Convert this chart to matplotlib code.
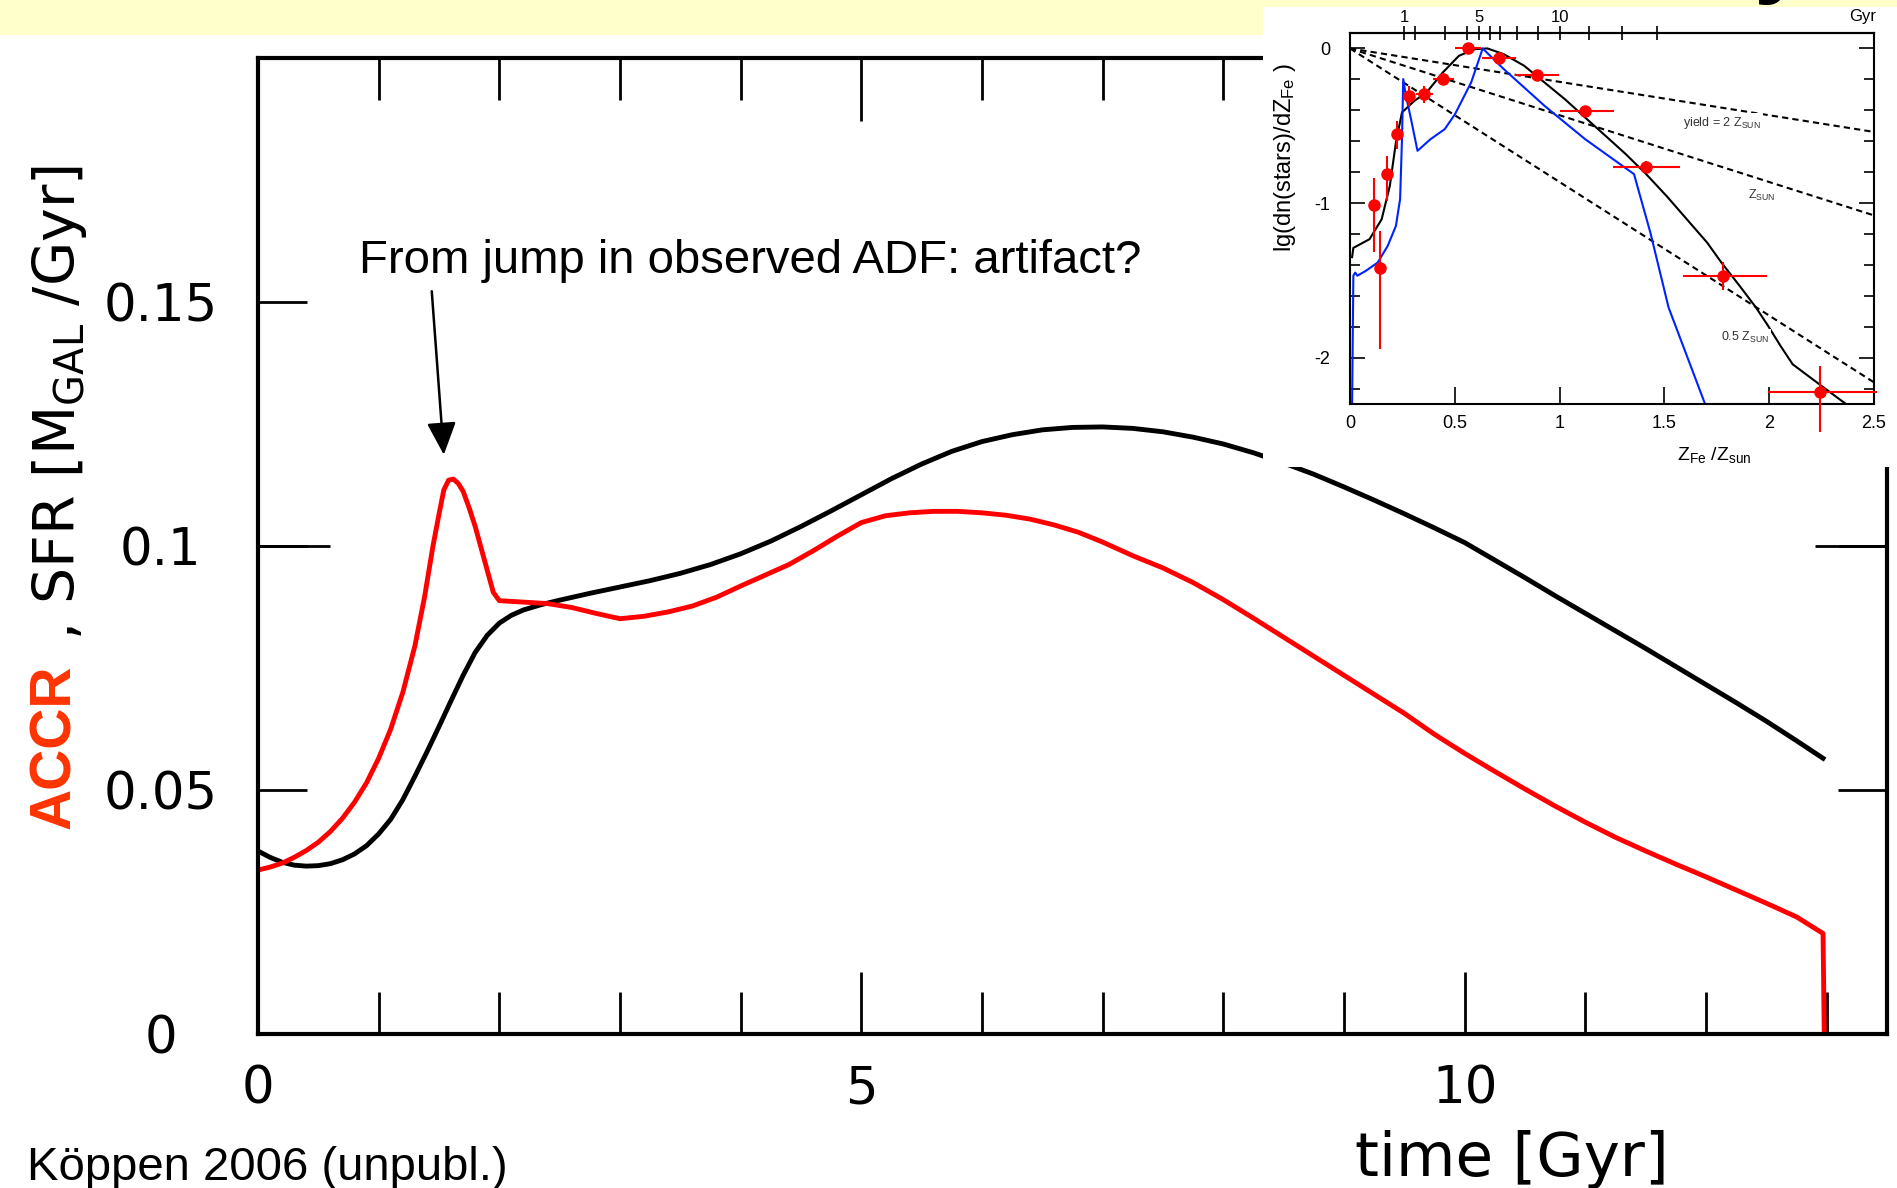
import numpy as np
import matplotlib.pyplot as plt
from matplotlib.patches import Rectangle
from matplotlib.ticker import FixedLocator, MultipleLocator

plt.rcParams['font.family'] = 'DejaVu Sans'
plt.rcParams['mathtext.default'] = 'regular'

W, H, DPI = 1897, 1188, 100

# main panel: star formation rate (black) and accretion rate (red)
t_sfr = [0.0, 0.1, 0.2, 0.3, 0.4, 0.5, 0.6, 0.7, 0.8, 0.9, 1.0, 1.1, 1.2, 1.3, 1.4,
         1.5, 1.6, 1.7, 1.8, 1.9, 2.0, 2.1, 2.2, 2.35, 2.5, 2.75, 3.0, 3.25, 3.5, 3.75,
         4.0, 4.25, 4.5, 4.75, 5.0, 5.25, 5.5, 5.75, 6.0, 6.25, 6.5, 6.75, 7.0, 7.25,
         7.5, 7.75, 8.0, 8.25, 8.5, 8.75, 9.0, 9.25, 9.5, 9.75, 10.0, 10.25, 10.5,
         10.75, 11.0, 11.25, 11.5, 11.75, 12.0, 12.25, 12.5, 12.75, 12.97]
sfr = [0.0375, 0.0362, 0.0352, 0.0346, 0.0344, 0.0345, 0.0349, 0.0357, 0.0369, 0.0386,
       0.041, 0.044, 0.048, 0.0528, 0.0578, 0.063, 0.0683, 0.0735, 0.0782, 0.0817,
       0.0842, 0.0858, 0.0869, 0.088, 0.0889, 0.0903, 0.0916, 0.0929, 0.0944, 0.0962,
       0.0984, 0.101, 0.104, 0.1072, 0.1105, 0.1138, 0.1168, 0.1194, 0.1214, 0.1228,
       0.1238, 0.1243, 0.1244, 0.1241, 0.1234, 0.1223, 0.1209, 0.1191, 0.117, 0.1147,
       0.1121, 0.1094, 0.1066, 0.1037, 0.1007, 0.0971, 0.0935, 0.0898, 0.0862, 0.0826,
       0.079, 0.0753, 0.0716, 0.0679, 0.0641, 0.0601, 0.0565]

t_accr = [0.0, 0.1, 0.2, 0.3, 0.4, 0.5, 0.6, 0.7, 0.8, 0.9, 1.0, 1.1, 1.2, 1.3, 1.38,
          1.45, 1.5, 1.54, 1.58, 1.62, 1.66, 1.7, 1.75, 1.8, 1.85, 1.9, 1.95, 2.0, 2.2,
          2.4, 2.6, 2.8, 3.0, 3.2, 3.4, 3.6, 3.8, 4.0, 4.2, 4.4, 4.6, 4.8, 5.0, 5.2,
          5.4, 5.6, 5.8, 6.0, 6.2, 6.4, 6.6, 6.8, 7.0, 7.25, 7.5, 7.75, 8.0, 8.25, 8.5,
          8.75, 9.0, 9.25, 9.5, 9.75, 10.0, 10.25, 10.5, 10.75, 11.0, 11.25, 11.5,
          11.75, 12.0, 12.25, 12.5, 12.75, 12.97, 12.98]
accr = [0.0336, 0.0342, 0.035, 0.0362, 0.0376, 0.0393, 0.0415, 0.0442, 0.0475, 0.0515,
        0.0565, 0.0625, 0.07, 0.0795, 0.0895, 0.1, 0.1065, 0.1115, 0.1135, 0.1137,
        0.1128, 0.1112, 0.1078, 0.104, 0.0995, 0.095, 0.0905, 0.0888, 0.0885, 0.0882,
        0.0874, 0.0862, 0.0851, 0.0856, 0.0865, 0.0877, 0.0895, 0.0918, 0.094, 0.0962,
        0.099, 0.102, 0.1048, 0.1062, 0.1068, 0.1071, 0.1071, 0.1068, 0.1063, 0.1055,
        0.1043, 0.1028, 0.1008, 0.098, 0.0955, 0.0925, 0.089, 0.0852, 0.0813, 0.0774,
        0.0735, 0.0696, 0.0657, 0.0614, 0.0575, 0.0538, 0.0502, 0.0467, 0.0434, 0.0403,
        0.0375, 0.0348, 0.0322, 0.0295, 0.0268, 0.024, 0.0206, 0.0]

x_ticks = [0, 5, 10]
y_ticks = [0, 0.05, 0.1, 0.15]
y_tick_labels = ['0', '0.05', '0.1', '0.15']

# inset: iron abundance distribution
z_model = [0.01, 0.016, 0.093, 0.151, 0.19, 0.219, 0.248, 0.307, 0.365, 0.443, 0.52,
           0.598, 0.656, 0.734, 0.831, 0.928, 1.025, 1.122, 1.219, 1.316, 1.413, 1.51,
           1.607, 1.704, 1.772, 1.859, 1.937, 1.995, 2.054, 2.112, 2.229, 2.364]
lg_model = [-1.35, -1.29, -1.234, -1.105, -0.889, -0.608, -0.414, -0.339, -0.285,
            -0.155, -0.047, -0.004, 0.0, -0.037, -0.112, -0.22, -0.328, -0.447, -0.565,
            -0.684, -0.813, -0.954, -1.105, -1.256, -1.385, -1.536, -1.676, -1.795,
            -1.924, -2.043, -2.162, -2.298]

z_blue = [0.01, 0.016, 0.025, 0.035, 0.074, 0.132, 0.18, 0.219, 0.239, 0.248, 0.254,
          0.264, 0.291, 0.322, 0.384, 0.452, 0.501, 0.578, 0.633, 0.734, 0.928, 1.122,
          1.355, 1.433, 1.52, 1.694, 2.36]
lg_blue = [-2.3, -1.47, -1.45, -1.47, -1.44, -1.385, -1.277, -1.148, -0.975, -0.587,
           -0.198, -0.285, -0.457, -0.662, -0.587, -0.522, -0.425, -0.22, 0.0, -0.134,
           -0.371, -0.587, -0.813, -1.191, -1.676, -2.3, -2.3]

z_simple = [0.0, 2.5]
lg_yield2 = [0.0, -0.54]
lg_yield1 = [0.0, -1.08]
lg_yield05 = [0.0, -2.16]

z_obs = [0.113, 0.142, 0.177, 0.225, 0.283, 0.355, 0.446, 0.563, 0.71, 0.893, 1.122,
         1.413, 1.778, 2.242]
lg_obs = [-1.014, -1.417, -0.813, -0.554, -0.306, -0.296, -0.198, 0.0, -0.06, -0.17,
          -0.403, -0.766, -1.471, -2.22]
z_err_lo = [0, 0, 0, 0, 0.025, 0.042, 0.05, 0.063, 0.08, 0.105, 0.122, 0.16, 0.19, 0.25]
z_err_hi = [0, 0, 0, 0, 0.025, 0.042, 0.05, 0.063, 0.08, 0.106, 0.136, 0.16, 0.21, 0.27]
lg_err_lo = [0.302, 0.529, 0.172, 0.097, 0.065, 0.056, 0.04, 0, 0, 0, 0, 0.04, 0.09, 0.26]
lg_err_hi = [0.173, 0.237, 0.119, 0.086, 0.065, 0.056, 0.04, 0, 0, 0, 0, 0.04, 0.09, 0.166]

# top axis of inset: Z reached after 1..13 Gyr
z_age = [0.258, 0.312, 0.452, 0.559, 0.617, 0.666, 0.718, 0.798, 0.895, 1.001, 1.141,
         1.296, 1.467]
age_labels = ['1', '', '', '', '5', '', '', '', '', '10', '', '', '']


def fx(px):
    return px / W


def fy(py):
    return 1 - py / H


fig = plt.figure(figsize=(W / DPI, H / DPI), dpi=DPI, facecolor='white')

# yellow title banner, mostly cut off
fig.add_artist(Rectangle((0, fy(35)), 1, 35 / H, transform=fig.transFigure,
                         facecolor='#FFFFCC', edgecolor='none', zorder=0.5))
fig.text(fx(1780), fy(5), 'y', fontsize=70, fontweight='bold', family='Liberation Sans',
         ha='center', va='bottom', zorder=0.6)

ax = fig.add_axes([fx(258), fy(1034), (1887 - 258) / W, (1034 - 58) / H])
ax.plot(t_sfr, sfr, color='black', lw=3.5)
ax.plot(t_accr, accr, color='#FF0000', lw=3.5)
ax.set_xlim(0, 13.5)
ax.set_ylim(0, 0.2)

for s in ax.spines.values():
    s.set_linewidth(3)
ax.xaxis.set_major_locator(FixedLocator(x_ticks))
ax.xaxis.set_minor_locator(MultipleLocator(1))
ax.set_yticks(y_ticks, labels=y_tick_labels)
ax.yaxis.set_minor_locator(FixedLocator([0.1]))
ax.yaxis.remove_overlapping_locs = False
ax.tick_params(which='both', direction='in', top=True, right=True, width=2)
ax.tick_params(axis='x', which='major', length=45, labelsize=37, pad=22)
ax.tick_params(axis='x', which='minor', length=30)
ax.tick_params(axis='y', which='major', length=35, labelsize=37, pad=70)
ax.tick_params(axis='y', which='minor', length=52)
for lab in ax.get_yticklabels():
    lab.set_horizontalalignment('center')

ax.text(0.84, 0.1585, 'From jump in observed ADF: artifact?', fontsize=34,
        family='Liberation Sans', va='center')
ax.annotate('', xy=(1.54, 0.1187), xytext=(1.44, 0.1522),
            arrowprops=dict(arrowstyle='-|>,head_length=1.0,head_width=0.45',
                            color='black', lw=1.8, shrinkA=0, shrinkB=0,
                            mutation_scale=20))

# axis labels
fig.text(fx(70), fy(829), 'ACCR', color='#FF3300', fontsize=41, fontweight='bold',
         family='Liberation Sans', rotation=90, rotation_mode='anchor',
         ha='left', va='baseline')
fig.text(fx(75), fy(640), ', SFR [M$_{GAL}$ /Gyr]', fontsize=41, rotation=90,
         rotation_mode='anchor', ha='left', va='baseline')
fig.text(fx(1512), fy(1176), 'time [Gyr]', fontsize=44, ha='center', va='baseline')
fig.text(fx(27), fy(1180), 'Köppen 2006 (unpubl.)', fontsize=34,
         family='Liberation Sans', va='baseline')

# inset panel
fig.add_artist(Rectangle((fx(1263), fy(467)), (W - 1263) / W, (467 - 7) / H,
                         transform=fig.transFigure, facecolor='white',
                         edgecolor='none', zorder=1))
axi = fig.add_axes([fx(1350), fy(404), (1874 - 1350) / W, (404 - 33) / H])
axi.set_zorder(2)
axi.plot(z_simple, lg_yield2, color='black', lw=1.5, ls=(0, (3, 2)))
axi.plot(z_simple, lg_yield1, color='black', lw=1.5, ls=(0, (3, 2)))
axi.plot(z_simple, lg_yield05, color='black', lw=1.5, ls=(0, (3, 2)))
axi.plot(z_model, lg_model, color='black', lw=1.5)
axi.plot(z_blue, lg_blue, color='#0022FF', lw=1.5)
axi.errorbar(z_obs, lg_obs, xerr=[z_err_lo, z_err_hi], yerr=[lg_err_lo, lg_err_hi],
             fmt='o', color='#FF0000', ms=8, elinewidth=1.5, capsize=0, clip_on=False,
             zorder=4)
axi.set_xlim(0, 2.5)
axi.set_ylim(-2.3, 0.1)

lab_kw = dict(fontsize=9, family='Liberation Sans', color='#333333', va='center',
              bbox=dict(facecolor='white', edgecolor='none', pad=1), zorder=5)
axi.text(1.59, -0.48, 'yield = 2 Z$_{SUN}$', **lab_kw)
axi.text(1.90, -0.95, 'Z$_{SUN}$', **lab_kw)
axi.text(1.77, -1.87, '0.5 Z$_{SUN}$', **lab_kw)

for s in axi.spines.values():
    s.set_linewidth(1.5)
axi.set_xticks([0, 0.5, 1, 1.5, 2, 2.5], labels=['0', '0.5', '1', '1.5', '2', '2.5'])
axi.set_yticks([-2, -1, 0], labels=['-2', '-1', '0'])
axi.yaxis.set_minor_locator(MultipleLocator(0.2))
axi.tick_params(axis='x', direction='in', length=12, width=1.2, top=False,
                labelsize=13, pad=8)
axi.tick_params(axis='y', which='both', direction='in', right=True, width=1.2)
axi.tick_params(axis='y', which='major', length=11, labelsize=13, pad=14)
axi.tick_params(axis='y', which='minor', length=7)
for lab in axi.get_xticklabels() + axi.get_yticklabels():
    lab.set_family('Liberation Sans')

sec = axi.secondary_xaxis('top')
sec.set_xticks(z_age, labels=age_labels)
sec.spines['top'].set_linewidth(1.5)
sec.tick_params(direction='inout', length=10, width=1.2, labelsize=12, pad=1)
for lab in sec.get_xticklabels():
    lab.set_family('Liberation Sans')

fig.text(fx(1876), fy(17), 'Gyr', fontsize=12, family='Liberation Sans',
         ha='right', va='center', zorder=3)
fig.text(fx(1285), fy(158), 'lg(dn(stars)/dZ$_{Fe}$ )', fontsize=17,
         family='Liberation Sans', rotation=90, ha='center', va='center', zorder=3)
fig.text(fx(1714), fy(455), 'Z$_{Fe}$ /Z$_{sun}$', fontsize=14,
         family='Liberation Sans', ha='center', va='center', zorder=3)

fig.savefig('out.png', dpi=DPI)
